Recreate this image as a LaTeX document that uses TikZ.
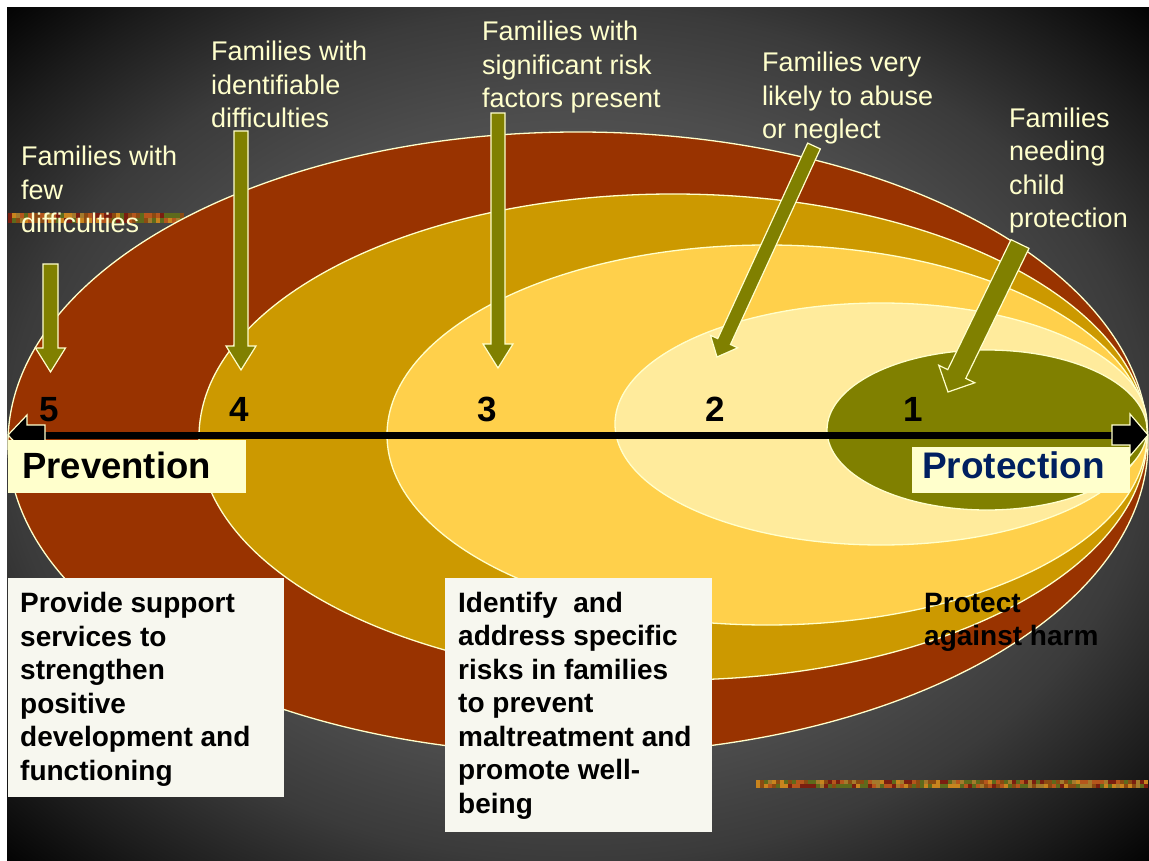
\documentclass[tikz,border=0pt]{standalone}
\usepackage{fontspec}
\setmainfont{Liberation Sans}
\usetikzlibrary{calc}

\definecolor{rust}{HTML}{993300}
\definecolor{gold}{HTML}{CC9900}
\definecolor{sun}{HTML}{FFD04B}
\definecolor{pale}{HTML}{FFEB9C}
\definecolor{oliv}{HTML}{808000}
\definecolor{cream}{HTML}{FFFFCC}
\definecolor{ivory}{HTML}{F7F7EF}
\definecolor{navy}{HTML}{002060}
\definecolor{bg0}{gray}{0.40}
\definecolor{bg1}{gray}{0.37}
\definecolor{bg2}{gray}{0.30}
\definecolor{bg3}{gray}{0.23}
\definecolor{bg4}{gray}{0.11}
% texture colours of the two decorative strips
\definecolor{nz1}{HTML}{8B4A12}
\definecolor{nz2}{HTML}{B5561C}
\definecolor{nz3}{HTML}{5E6A1C}
\definecolor{nz4}{HTML}{7A1E10}
\definecolor{nz5}{HTML}{A47A2C}
\definecolor{nz6}{HTML}{C8841E}

\pgfdeclareradialshading{slidebg}{\pgfpoint{0bp}{0bp}}{%
  color(0bp)=(bg0); color(10bp)=(bg1); color(19bp)=(bg2);
  color(25bp)=(bg3); color(31bp)=(bg4); color(36bp)=(black); color(50bp)=(black)}
\pgfmathdeclarerandomlist{noise}{{nz1}{nz2}{nz3}{nz4}{nz5}{nz6}}

\tikzset{
  ring/.style={draw=cream, line width=1.3pt},
  ptr/.style={draw=cream, line width=1.2pt, fill=oliv, line join=miter},
  headblk/.style={draw=cream, line width=1.2pt, fill=black, line join=miter},
  toplabel/.style={anchor=base west, inner sep=0pt, align=left, text=cream,
    font=\fontsize{27}{33.5}\selectfont},
  boldtext/.style={anchor=base west, inner sep=0pt, align=left, text=black,
    font=\fontsize{28}{33.5}\selectfont\bfseries},
  level/.style={anchor=base, inner sep=0pt, font=\fontsize{35}{40}\selectfont\bfseries},
  plate/.style={anchor=north west, inner sep=0pt, draw=none},
}

% block arrow: tail, tip, shaft half width, head half width, head length
\newcommand\blockarrow[5]{%
  \coordinate (hb) at ($(#2)!#5!(#1)$);
  \draw[ptr] ($(#1)!#3!90:(#2)$) -- ($(hb)!#3!-90:(#1)$) -- ($(hb)!#4!-90:(#1)$)
    -- (#2) -- ($(hb)!#4!90:(#1)$) -- ($(hb)!#3!90:(#1)$) -- ($(#1)!#3!-90:(#2)$) -- cycle;
}

\begin{document}
\begin{tikzpicture}[x=1pt, y=-1pt]
\useasboundingbox (0,0) rectangle (1149,861);
\fill[white] (0,0) rectangle (1149,861);
\shade[shading=slidebg] (7,8) rectangle (1149,861);

% decorative texture strips
\pgfmathsetseed{11}
\foreach \i in {0,...,43}{
  \foreach \j in {0,1}{
    \pgfmathrandomitem{\noisecol}{noise}
    \fill[\noisecol] (8+\i*4, 213+\j*5) rectangle ++(4,5);
  }
}
\foreach \i in {0,...,97}{
  \foreach \j in {0,1}{
    \pgfmathrandomitem{\noisecol}{noise}
    \fill[\noisecol] (756+\i*4, 780+\j*4) rectangle ++(4,4);
  }
}

% nested levels, outermost first
\draw[ring, fill=rust] (578,443) ellipse [x radius=570, y radius=311];
\draw[ring, fill=gold] (673,437) ellipse [x radius=474, y radius=243];
\draw[ring, fill=sun]  (767,435) ellipse [x radius=380, y radius=190];
\draw[ring, fill=pale] (881,424) ellipse [x radius=266, y radius=121];
\draw[ring, fill=oliv] (987,430) ellipse [x radius=160, y radius=80];

% level numbers
\node[level] (n5) at (49,421) {5};
\node[level] (n4) at (239,421) {4};
\node[level] (n3) at (487,421) {3};
\node[level] (n2) at (715,421) {2};
\node[level] (n1) at (913,421) {1};

% prevention -- protection axis
\coordinate (westtip) at (8,435);
\coordinate (eastttip) at (1148,435);
\coordinate (westend) at (45,435);
\coordinate (eastend) at (1112,435);
\draw[line width=7pt] (westend) -- (eastend);
\draw[headblk] (45,425) -- (27,425) -- (27,415) -- (westtip) -- (27,455) -- (27,445) -- (45,445) -- cycle;
\draw[headblk] (1112,425) -- (1130,425) -- (1130,414) -- (eastttip) -- (1130,456) -- (1130,445) -- (1112,445) -- cycle;

\node[plate, fill=cream, minimum width=238pt, minimum height=53pt] (prevbox) at (8,440) {};
\node[anchor=base west, inner sep=0pt, font=\fontsize{36.5}{40}\selectfont\bfseries] (prev) at (22,478) {Prevention};
\node[plate, fill=cream, minimum width=218pt, minimum height=46pt] (protbox) at (912,447) {};
\node[anchor=base west, inner sep=0pt, text=navy, font=\fontsize{37}{40}\selectfont\bfseries] (prot) at (922,478) {Protection};

% group labels (placed by the baseline of their last line)
\node[toplabel] (lab5) at (21,233) {Families with\\few\\difficulties};
\node[toplabel] (lab4) at (211,128) {Families with\\identifiable\\difficulties};
\node[toplabel] (lab3) at (482,108) {Families with\\significant risk\\factors present};
\node[toplabel] (lab2) at (762,139) {Families very\\likely to abuse\\or neglect};
\node[toplabel] (lab1) at (1009,228) {Families\\needing\\child\\protection};

% pointers from the labels into the levels
\coordinate (t5) at (50.5,264);  \coordinate (h5) at (50.5,372);
\coordinate (t4) at (241,131);   \coordinate (h4) at (241,370);
\coordinate (t3) at (498,113);   \coordinate (h3) at (498,368);
\coordinate (t2) at (814,146);   \coordinate (h2) at (717,357);
\coordinate (t1) at (1020,244);  \coordinate (h1) at (948,392);
\blockarrow{t5}{h5}{7.5pt}{15pt}{24pt}
\blockarrow{t4}{h4}{7pt}{15pt}{24pt}
\blockarrow{t3}{h3}{7pt}{15pt}{24pt}
\blockarrow{t2}{h2}{7pt}{15pt}{17pt}
\blockarrow{t1}{h1}{10pt}{20pt}{20pt}

% service descriptions
\node[plate, fill=ivory, minimum width=276pt, minimum height=219pt] (supbox) at (8,578) {};
\node[boldtext] (sup) at (20,780) {Provide support\\services to\\strengthen\\positive\\development and\\functioning};
\node[plate, fill=ivory, minimum width=267pt, minimum height=254pt] (riskbox) at (445,578) {};
\node[boldtext] (risk) at (458,813) {Identify\ \ and\\address specific\\risks in families\\to prevent\\maltreatment and\\promote well-\\being};
\node[boldtext] (harm) at (924,645.5) {Protect\\against harm};
\end{tikzpicture}
\end{document}
